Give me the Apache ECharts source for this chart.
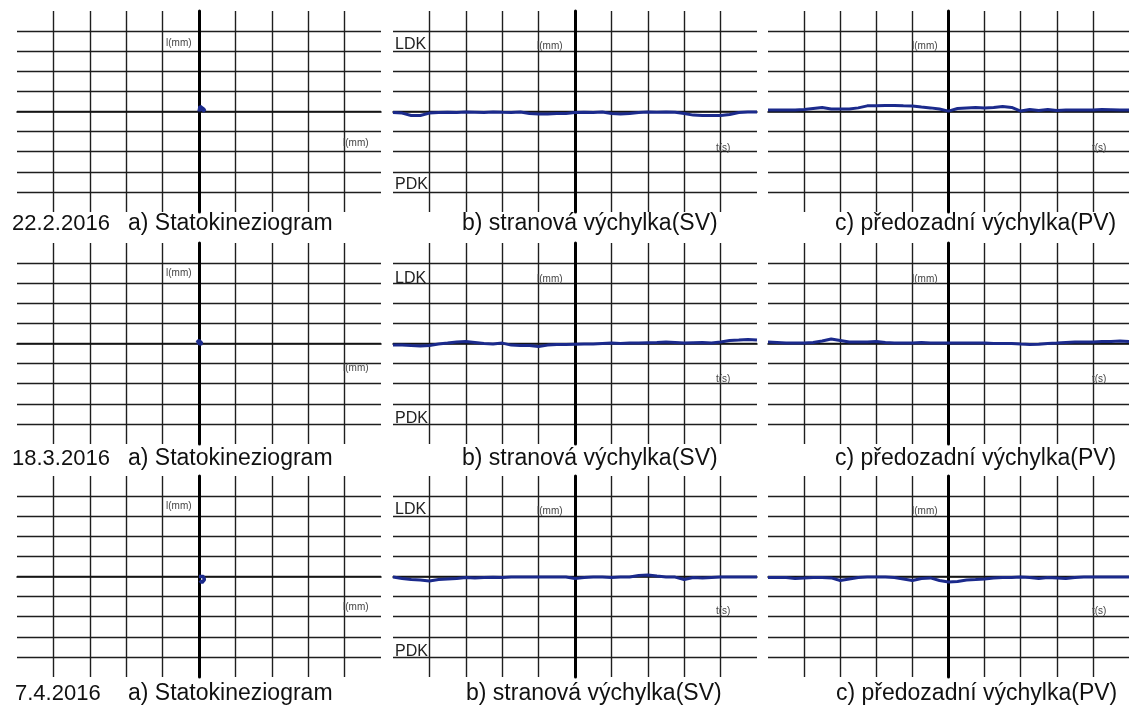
<!DOCTYPE html>
<html>
<head>
<meta charset="utf-8">
<script src="https://cdn.jsdelivr.net/npm/echarts@6/dist/echarts.min.js"></script>
<style>
html,body{margin:0;padding:0;background:#fff;}
#c{width:1129px;height:705px;}
</style>
</head>
<body>
<div id="c"></div>
<script>
// ---- data ----
const dates = ['22.2.2016', '18.3.2016', '7.4.2016'];
const captionA = 'a) Statokineziogram';
const captionB = 'b) stranová výchylka(SV)';
const captionC = 'c) předozadní výchylka(PV)';
const labelMM = 'l(mm)';
const labelT = 't(s)';
const labelLDK = 'LDK';
const labelPDK = 'PDK';

// sample times (grid divisions)
const timeX = [-5,-4.75,-4.5,-4.25,-4,-3.75,-3.5,-3.25,-3,-2.75,-2.5,-2.25,-2,-1.75,-1.5,-1.25,-1,-0.75,-0.5,-0.25,0,0.25,0.5,0.75,1,1.25,1.5,1.75,2,2.25,2.5,2.75,3,3.25,3.5,3.75,4,4.25,4.5,4.75,5];

// stranová výchylka (SV)
const sv1 = [-0.05,-0.08,-0.2,-0.2,-0.08,-0.05,-0.04,-0.05,-0.03,-0.04,-0.05,-0.02,-0.04,-0.05,-0.03,-0.1,-0.12,-0.12,-0.1,-0.1,-0.05,-0.04,-0.05,-0.03,-0.1,-0.12,-0.1,-0.05,-0.03,-0.04,-0.02,-0.04,-0.1,-0.18,-0.2,-0.2,-0.2,-0.15,-0.05,-0.03,-0.03];
const sv2 = [-0.07,-0.07,-0.1,-0.12,-0.1,-0.03,0.02,0.08,0.1,0.05,0,-0.03,0.02,-0.08,-0.1,-0.1,-0.15,-0.08,-0.05,-0.05,-0.04,-0.03,-0.02,0,0.02,0,0.02,0.03,0.04,0.05,0.07,0.05,0.03,0.04,0.05,0.03,0.07,0.15,0.17,0.2,0.17];
const sv3 = [-0.03,-0.1,-0.15,-0.18,-0.22,-0.15,-0.12,-0.1,-0.05,-0.07,-0.05,-0.04,-0.05,-0.02,-0.03,-0.02,-0.02,-0.03,-0.02,-0.03,-0.1,-0.05,-0.03,-0.03,-0.05,-0.03,-0.02,0.05,0.08,0.02,-0.02,-0.03,-0.15,-0.05,-0.07,-0.05,-0.03,-0.02,-0.02,-0.02,-0.02];

// předozadní výchylka (PV)
const pv1 = [0.08,0.08,0.08,0.08,0.1,0.15,0.2,0.12,0.12,0.12,0.18,0.28,0.28,0.3,0.3,0.28,0.27,0.22,0.18,0.12,0.02,0.15,0.18,0.2,0.18,0.2,0.25,0.2,0.02,0.1,0.05,0.1,0.05,0.07,0.08,0.07,0.08,0.1,0.09,0.08,0.08];
const pv2 = [0.07,0.05,0.03,0.03,0.02,0.05,0.12,0.22,0.15,0.07,0.07,0.08,0.1,0.05,0.03,0.02,0.03,0.05,0.03,0.02,0.02,0.03,0.03,0.02,0.02,0,0,0,-0.03,-0.05,-0.04,0,0.02,0.05,0.07,0.08,0.08,0.1,0.1,0.12,0.1];
const pv3 = [-0.05,-0.05,-0.05,-0.1,-0.08,-0.05,-0.05,-0.07,-0.2,-0.12,-0.05,-0.03,-0.03,-0.03,-0.05,-0.12,-0.2,-0.1,-0.07,-0.2,-0.27,-0.25,-0.17,-0.15,-0.12,-0.08,-0.05,-0.05,-0.03,-0.05,-0.1,-0.05,-0.07,-0.1,-0.05,-0.03,-0.02,-0.03,-0.02,-0.02,-0.03];

// statokineziogram traces
const sk1X = [0, 0.03, 0.08, 0.13, 0.16, 0.1, 0.04, 0];
const sk1Y = [0, 0.25, 0.22, 0.12, 0.02, 0.08, 0.15, 0.05];
const sk2X = [-0.06, 0, 0.05, 0.08, 0.02, -0.04, 0];
const sk2Y = [0.05, 0.15, 0.1, 0.0, -0.03, 0.08, 0.1];
const sk3X = [0, 0.05, 0.12, 0.15, 0.08, 0.02];
const sk3Y = [0, -0.05, 0, -0.15, -0.3, -0.2];

// ---- layout ----
const colLeft = [17, 393, 768];
const rowTop = [11, 243, 476];
const gridW = 364, gridH = 201;
const FONT = '"Liberation Sans", Arial, sans-serif';
const lineColor = '#1b2a8c';

const sk = [[sk1X, sk1Y], [sk2X, sk2Y], [sk3X, sk3Y]];
const svRows = [sv1, sv2, sv3];
const pvRows = [pv1, pv2, pv3];

const grids = [], xAxes = [], yAxes = [], series = [];
let gi = 0;
function zip(xs, ys) { return xs.map((x, i) => [x, ys[i]]); }

for (let r = 0; r < 3; r++) {
  for (let c = 0; c < 3; c++) {
    grids.push({left: colLeft[c], top: rowTop[r], width: gridW, height: gridH, containLabel: false});
    const common = {
      gridIndex: gi, type: 'value', min: -5, max: 5, interval: 1,
      axisLabel: {show: false}, axisTick: {show: false},
      splitLine: {show: true, showMinLine: false, showMaxLine: false, lineStyle: {color: '#1e1e1e', width: 1.4}}
    };
    xAxes.push(Object.assign({}, common, {axisLine: {show: true, onZero: true, lineStyle: {color: '#111', width: 1.6}}}));
    yAxes.push(Object.assign({}, common, {axisLine: {show: true, onZero: true, lineStyle: {color: '#000', width: 3}}}));
    let data;
    if (c === 0) data = zip(sk[r][0], sk[r][1]);
    else if (c === 1) data = zip(timeX, svRows[r]);
    else data = zip(timeX, pvRows[r]);
    series.push({
      type: 'line', xAxisIndex: gi, yAxisIndex: gi, data: data,
      showSymbol: false, symbol: 'none', smooth: false,
      lineStyle: {color: lineColor, width: c === 0 ? 3.5 : 3},
      z: 5
    });
    gi++;
  }
}

// ---- texts ----
const g = [];
function txt(str, x, y, size, color) {
  g.push({type: 'text', left: x, top: y - size / 2 + 1.5, z: 100,
    style: {text: str, font: size + 'px ' + FONT, fill: color || '#111'}});
}
// panel a small labels
const aTopY = [42, 272, 505], aRightY = [142, 367, 606];
// panel b/c labels
const bcMMY = [45, 278, 510], bcTY = [147, 378, 610];
const ldkY = [43, 277, 508], pdkY = [183, 417, 650];
const capY = [222, 457, 692];
const dateX = [12, 12, 15];
const capBX = [462, 462, 466];
const capCX = [835, 835, 836];
for (let r = 0; r < 3; r++) {
  txt(labelMM, 166, aTopY[r], 10, '#444');
  txt(labelMM, 343, aRightY[r], 10, '#444');
  txt(labelMM, 537, bcMMY[r], 10, '#444');
  txt(labelT, 716, bcTY[r], 10, '#444');
  txt(labelMM, 912, bcMMY[r], 10, '#444');
  txt(labelT, 1092, bcTY[r], 10, '#444');
  txt(labelLDK, 395, ldkY[r], 16, '#222');
  txt(labelPDK, 395, pdkY[r], 16, '#222');
  txt(dates[r], dateX[r], capY[r], 22, '#111');
  txt(captionA, 128, capY[r], 23, '#111');
  txt(captionB, capBX[r], capY[r], 23, '#111');
  txt(captionC, capCX[r], capY[r], 23, '#111');
}

const chart = echarts.init(document.getElementById('c'), null, {renderer: 'canvas'});
chart.setOption({
  animation: false,
  backgroundColor: '#fff',
  grid: grids,
  xAxis: xAxes,
  yAxis: yAxes,
  series: series,
  graphic: g
});
</script>
</body>
</html>
